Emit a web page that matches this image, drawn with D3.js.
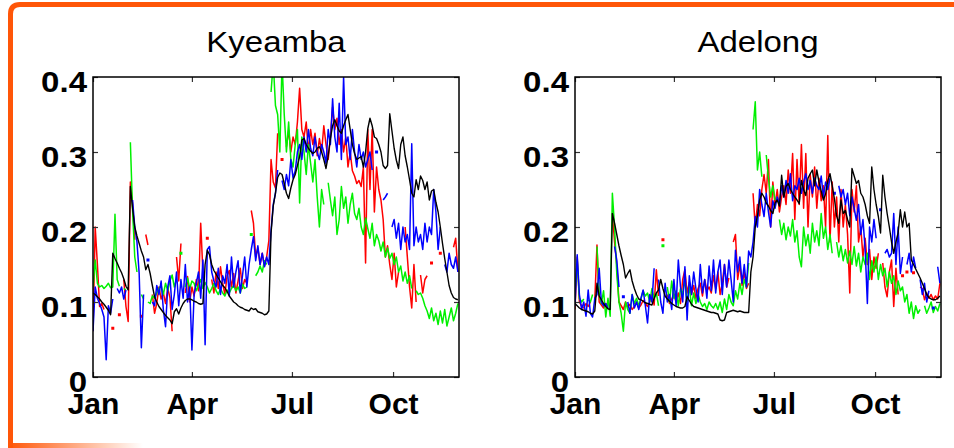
<!DOCTYPE html>
<html><head><meta charset="utf-8">
<script src="https://cdn.jsdelivr.net/npm/d3@7"></script>
<style>
html,body{margin:0;padding:0;background:#fff;}
svg{display:block;}
text{font-family:"Liberation Sans",Arial,Helvetica,sans-serif;}
</style></head><body>
<svg id="chart" width="954" height="448"></svg>
<script>
// Daily soil moisture, sampled every second day from 1 January (day 0) to day 332.
const _ = null;
const days = d3.range(0, 333, 2);
const monthStart = [0, 90, 181, 273];
const monthNames = ["Jan", "Apr", "Jul", "Oct"];
const yTicks = [0, 0.1, 0.2, 0.3, 0.4];
const yTickLabels = ["0", "0.1", "0.2", "0.3", "0.4"];
const siteNames = ["Kyeamba", "Adelong"];

// Kyeamba
const kyeambaModel = [
.112,.110,.107,.104,.100,.097,.093,.089,.083,.165,
.158,.152,.145,.139,.131,.121,.116,.254,.225,.200,
.188,.178,.168,.160,.143,.150,.138,.122,.107,.100,
.094,.090,.086,.082,.079,.076,.071,.087,.091,.084,
.092,.098,.102,.104,.104,.103,.101,.100,.098,.097,
.098,.150,.169,.163,.150,.142,.137,.132,.127,.122,
.119,.114,.108,.104,.100,.098,.095,.093,.092,.090,
.089,.088,.092,.090,.091,.087,.086,.085,.083,.084,
.088,.192,.228,.245,.266,.272,.270,.258,.245,.238,
.252,.263,.270,.282,.294,.316,.318,.310,.305,.301,
.298,.300,.305,.307,.300,.290,.278,.295,.318,.335,
.343,.335,.328,.325,.335,.343,.350,.330,.310,.298,
.290,.292,.294,.280,.300,.331,.345,.335,.320,.318,
.310,.300,.282,.278,.282,.351,.328,.305,.289,.278,
.310,.320,.295,.280,.263,.245,.240,.263,.250,.268,
.262,.250,.260,.236,.248,.250,.233,.220,.200,.178,
.158,.140,.122,.112,.106,.104,.103];
const kyeambaRed = [
.061,.200,.150,.094,.098,.090,_,_,_,.065,
_,_,.083,_,.130,.094,.074,.260,.230,.183,
_,_,.081,_,.190,.176,_,.110,.085,.098,
.120,.104,.112,.098,.118,.106,.061,_,.160,.128,
.178,_,.112,.134,.100,.120,.108,.130,.115,.205,
.140,_,.185,_,.130,.112,.140,.118,.147,.125,
.110,.135,.142,.120,.138,.112,.128,.145,.118,.130,
.125,_,.222,.205,.160,.172,.150,.165,.148,.160,
.182,.290,.260,.252,.325,_,.290,_,.307,.329,
.300,.320,.310,.340,.385,.330,.320,.340,.300,.330,
.310,.325,.295,.318,.300,.335,.310,.290,.320,.360,
.330,.345,.310,.330,.300,.320,.280,.300,.275,.268,
.258,.262,.254,.280,.152,.330,.250,.330,.220,.280,
.250,.236,.210,.160,.175,.150,.130,.165,.120,.140,
_,_,.200,.160,.120,.092,.150,.100,_,.136,
.112,.130,.135,_,.152,_,_,_,.165,_,
_,_,_,_,.173,.185,.140];
const kyeambaGreen = [
.120,.156,.125,.120,.122,.118,.121,.125,.119,.120,
.217,.130,.121,_,.118,.116,_,.313,.222,.160,
.140,_,.110,.104,_,.100,.098,.108,.105,.112,
.118,.122,.110,.125,.115,.128,.136,.120,.130,_,
.165,_,.120,.132,.118,.128,.125,.115,.122,.130,
.118,.126,.120,.112,.118,.125,.115,.110,.118,.112,
.108,.116,.112,.118,.122,.115,.120,.112,.124,.118,
.120,_,.190,_,.135,.140,.148,.140,.155,.150,
_,.380,.420,.362,.350,.300,.420,.350,.300,.340,
.290,.280,.310,.330,.232,.320,.300,.270,.310,.285,
.260,.290,.240,.200,.250,.230,_,.259,.236,.215,
.240,.190,.210,.254,.225,.240,.205,.230,.245,.218,
.210,.225,.200,.190,.212,.198,.185,.205,.175,.190,
.182,.168,.180,.160,.172,.158,.165,.150,.160,.140,
.148,.128,.140,.125,.135,.118,_,.115,.110,.112,
.105,.095,.088,.078,.092,.075,.085,.070,.088,.072,
.090,.068,.080,.092,.075,.085,.098];
const kyeambaBlue = [
.061,.120,.105,.098,.090,.080,.023,.095,.085,.104,
_,.118,.112,.120,.104,.116,_,_,.236,.200,
.180,.138,.039,.110,_,.156,_,.100,.095,.122,
.110,.128,.090,.067,.120,.135,.090,.110,.140,.095,
.130,.105,.150,.100,.120,.036,.110,.125,.140,.105,
.156,.043,.170,.174,.140,.128,.120,.145,.110,.135,
.125,.150,.108,.160,.120,.140,.155,.112,.135,.160,
.120,.150,.170,.187,.155,.175,.150,.165,.147,.160,
.150,.196,.230,.245,.276,_,.262,.250,.270,.255,
.290,.265,.275,.300,.310,.290,.320,.300,.330,.305,
.295,.320,.300,.290,.310,.300,.285,.330,.310,.371,
.320,.300,.365,.290,.400,.310,.320,.290,.330,.300,
.280,.310,.290,.300,.280,.290,.300,.276,_,.300,
_,_,.236,.240,.245,_,.200,.210,.185,.205,
.170,.200,.180,.190,.170,.311,.175,.200,.180,.190,
.170,.205,.180,.200,.190,.250,.220,.170,.200,_,
.150,.140,.165,.150,.145,.160,.140];

// Adelong
const adelongModel = [
.098,.095,.092,.090,.089,.088,.087,.085,.084,.088,
.125,.108,.103,.098,.094,.091,.090,.218,.205,.190,
.175,.162,.150,.132,.138,.143,.128,.118,.110,.104,
.103,.101,.099,.098,.097,.096,.105,.112,.116,.130,
.118,.108,.104,.101,.098,.096,.094,.093,.092,.092,
.094,.107,.102,.097,.094,.093,.092,.091,.090,.089,
.088,.087,.086,.086,.085,.084,.076,.075,.076,.086,
.087,.088,.089,.088,.087,.088,.087,.086,.086,.086,
.140,.160,.200,.215,.236,.245,.240,.232,.228,.222,
.218,.232,.236,.228,.269,.240,.254,.258,.250,.245,
.240,.236,.231,.262,.250,.242,.265,.271,.276,.255,
.276,.260,.248,.236,.244,.262,.271,.255,.238,.215,
.205,.236,.218,.222,.210,.200,.278,.268,.258,.262,
.245,.240,.230,.215,.205,.280,.250,.230,.214,.192,
.269,.240,.218,.200,.180,.165,.180,.192,.223,.200,
.220,.200,.205,.156,.150,.144,.138,.132,.125,.118,
.110,.106,.104,.103,.103,.105,.108];
const adelongRed = [
.090,.160,.100,.095,.092,.098,.094,.100,_,.102,
.176,.100,.096,.092,.098,.094,_,.218,.180,.150,
.100,.095,.090,.100,.093,.097,.090,.094,.100,.092,
.096,.102,.098,.094,.100,.110,.096,.143,.108,_,
.183,_,.110,.098,.104,.110,.100,.112,.098,.130,
.143,.112,.126,.110,.122,.105,.118,.125,.108,.130,
.115,.120,.112,.135,.118,.140,.110,.125,.150,.120,
.132,_,.180,.190,.130,.150,.122,.140,.118,.125,
_,.245,.200,.230,.215,.250,.270,.245,.290,.200,
.260,.230,.250,.220,.240,.255,.230,.276,.245,.298,
.210,.290,.230,.310,.225,.298,.200,.270,.240,.280,
.225,.265,.235,.255,.200,.322,.180,.260,.200,.240,
.180,.250,.200,.230,.190,.112,.250,.220,.255,.180,
.200,.160,.185,.150,.170,.130,.160,.145,.165,_,
.152,.120,.107,.140,.156,.094,.145,.110,_,.135,
_,.140,_,_,.139,_,_,.120,.118,.103,
.112,.105,.110,.103,.108,.104,.125];
const adelongGreen = [
.110,.156,.105,.100,.104,_,.103,.100,.110,_,
.174,.110,.098,.115,.080,.105,.081,.245,.200,.138,
.100,.085,.061,.100,.090,.085,.110,.098,.105,.095,
.104,.115,.108,.112,.100,.118,.105,.112,.095,_,
.175,_,.120,.100,.128,.105,.115,.095,.118,.110,
.130,.100,.120,.095,.112,.098,.110,.100,.094,.098,
.090,.100,.095,.092,.098,.090,.100,.086,.104,.090,
.110,.100,.095,.115,.104,.125,.110,.130,.120,.152,
_,.330,.367,.276,.300,.267,_,.296,.265,.240,
.255,.236,_,.210,.190,.205,.183,.200,.188,.210,
.180,.195,.160,.147,.200,.175,.190,.165,.205,.180,
.195,.175,.218,.185,.200,.170,.190,.165,_,.180,
.160,.175,.155,.170,.152,.168,.150,.174,.148,.165,
.140,.160,.150,.165,.130,.155,.140,.160,.130,.150,
.135,.145,.120,.140,.125,.135,.110,.128,.115,.120,
.100,.110,.085,.100,.078,.095,.085,.090,_,.095,
.085,.092,.100,.086,.094,.088,.098];
const adelongBlue = [
.095,.163,.110,.090,.100,.081,.116,.085,.080,.105,
.110,.145,.100,.095,.098,.092,_,_,.174,.156,
.120,_,.107,_,.100,.085,.110,.092,.100,.090,
.105,.116,.095,.072,.110,.100,.145,_,.130,.100,
.085,.125,.100,.110,.090,.130,.095,.156,.120,.100,
.147,.076,.135,.110,.140,.118,.100,.150,.112,.130,
.105,.148,.115,.156,.112,.140,.156,.110,.150,.120,
.156,.130,.100,.169,.140,.160,.125,.150,.120,.168,
.160,.180,.214,.200,.250,.230,.214,.245,.220,.200,
.235,.225,.240,.230,.255,.240,.262,.245,.271,.235,
.255,.250,.265,.245,.260,.271,.250,.262,.245,.265,
.255,.250,.268,.240,.260,.250,.265,_,.245,_,
.255,.240,.250,.230,.245,.215,.240,.225,.209,.230,
.190,.210,.170,.098,.200,.180,.210,.185,_,.223,
_,.165,.170,.160,.165,.218,.150,.200,.138,.160,
_,.150,.165,.140,.160,.145,_,.130,.110,.125,
.100,.115,_,.092,_,.147,.125];

const frameColor = "#ff5608";
const seriesColors = { model: "#000000", red: "#ff0000", green: "#00f000", blue: "#0000ff" };

const svg = d3.select("#chart");
const defs = svg.append("defs");

// Orange slide frame: top and left edges, bottom edge fading out
const fade = defs.append("linearGradient").attr("id", "fade")
  .attr("x1", 0).attr("x2", 1).attr("y1", 0).attr("y2", 0);
fade.append("stop").attr("offset", "0%").attr("stop-color", frameColor);
fade.append("stop").attr("offset", "100%").attr("stop-color", frameColor).attr("stop-opacity", 0);
svg.append("path")
  .attr("d", "M10.5,448 V14 Q10.5,4.5 20,4.5 H954")
  .attr("fill", "none").attr("stroke", frameColor).attr("stroke-width", 5);
svg.append("rect").attr("x", 8).attr("y", 443).attr("width", 135).attr("height", 5)
  .attr("fill", "url(#fade)");

const plotW = 366, plotH = 300, plotTop = 77;
const x = d3.scaleLinear().domain([0, 333]).range([0, plotW]);
const y = d3.scaleLinear().domain([0, 0.4]).range([plotH, 0]);

function stretch(sel, k) {
  sel.each(function () {
    const L = this.getComputedTextLength();
    d3.select(this).attr("textLength", L * k).attr("lengthAdjust", "spacingAndGlyphs");
  });
}

const panels = [
  { title: siteNames[0], left: 93, clip: "clipK",
    series: [["model", kyeambaModel], ["red", kyeambaRed], ["green", kyeambaGreen], ["blue", kyeambaBlue]] },
  { title: siteNames[1], left: 575, clip: "clipA",
    series: [["model", adelongModel], ["red", adelongRed], ["green", adelongGreen], ["blue", adelongBlue]] }
];

const line = d3.line()
  .defined(d => d != null)
  .x((d, i) => x(days[i]))
  .y(d => y(d));

panels.forEach(p => {
  const g = svg.append("g").attr("transform", `translate(${p.left},${plotTop})`);
  defs.append("clipPath").attr("id", p.clip)
    .append("rect").attr("x", 0).attr("y", 0).attr("width", plotW).attr("height", plotH);

  const data = g.append("g").attr("clip-path", `url(#${p.clip})`);
  // observations first, model on top
  const order = ["red", "green", "blue", "model"];
  order.forEach(key => {
    const vals = p.series.find(s => s[0] === key)[1];
    data.append("path")
      .attr("d", line(vals))
      .attr("fill", "none")
      .attr("stroke", seriesColors[key])
      .attr("stroke-width", key === "model" ? 1.4 : 1.5)
      .attr("stroke-linejoin", "round");
    // single readings between gaps are shown as dots
    const lone = vals.map((v, i) => ({ v, i }))
      .filter(o => o.v != null && (o.i === 0 || vals[o.i - 1] == null) && (o.i === vals.length - 1 || vals[o.i + 1] == null));
    data.selectAll(null).data(lone).enter().append("rect")
      .attr("x", o => x(days[o.i]) - 1.5).attr("y", o => y(o.v) - 1.5)
      .attr("width", 3).attr("height", 3).attr("fill", seriesColors[key]);
  });

  const tickCol = "#333";
  const bottom = g.append("g").attr("transform", `translate(0,${plotH})`)
    .call(d3.axisBottom(x).tickValues(monthStart).tickFormat((d, i) => monthNames[i])
      .tickSizeInner(-5).tickSizeOuter(0).tickPadding(16));
  const left = g.append("g")
    .call(d3.axisLeft(y).tickValues(yTicks).tickFormat((d, i) => yTickLabels[i])
      .tickSizeInner(-5).tickSizeOuter(0).tickPadding(6));
  const top = g.append("g")
    .call(d3.axisTop(x).tickValues(monthStart).tickFormat("").tickSizeInner(-5).tickSizeOuter(0));
  const right = g.append("g").attr("transform", `translate(${plotW},0)`)
    .call(d3.axisRight(y).tickValues(yTicks).tickFormat("").tickSizeInner(-5).tickSizeOuter(0));

  [bottom, left, top, right].forEach(a => {
    a.select(".domain").remove();
    a.selectAll(".tick line").attr("stroke", tickCol).attr("stroke-width", 1.2);
    a.selectAll("text").attr("font-family", null).attr("font-size", null)
      .style("font-size", "30px").style("font-weight", "bold").attr("fill", "#000");
  });
  left.selectAll("text").attr("dy", "0.47em");
  stretch(left.selectAll("text"), 1.1);

  g.append("rect").attr("x", 0).attr("y", 0).attr("width", plotW).attr("height", plotH)
    .attr("fill", "none").attr("stroke", "#000").attr("stroke-width", 1.5);

  const t = g.append("text").attr("x", plotW / 2).attr("y", -25)
    .attr("text-anchor", "middle").style("font-size", "30px").text(p.title);
  stretch(t, 1.1);
});
</script></body></html>
